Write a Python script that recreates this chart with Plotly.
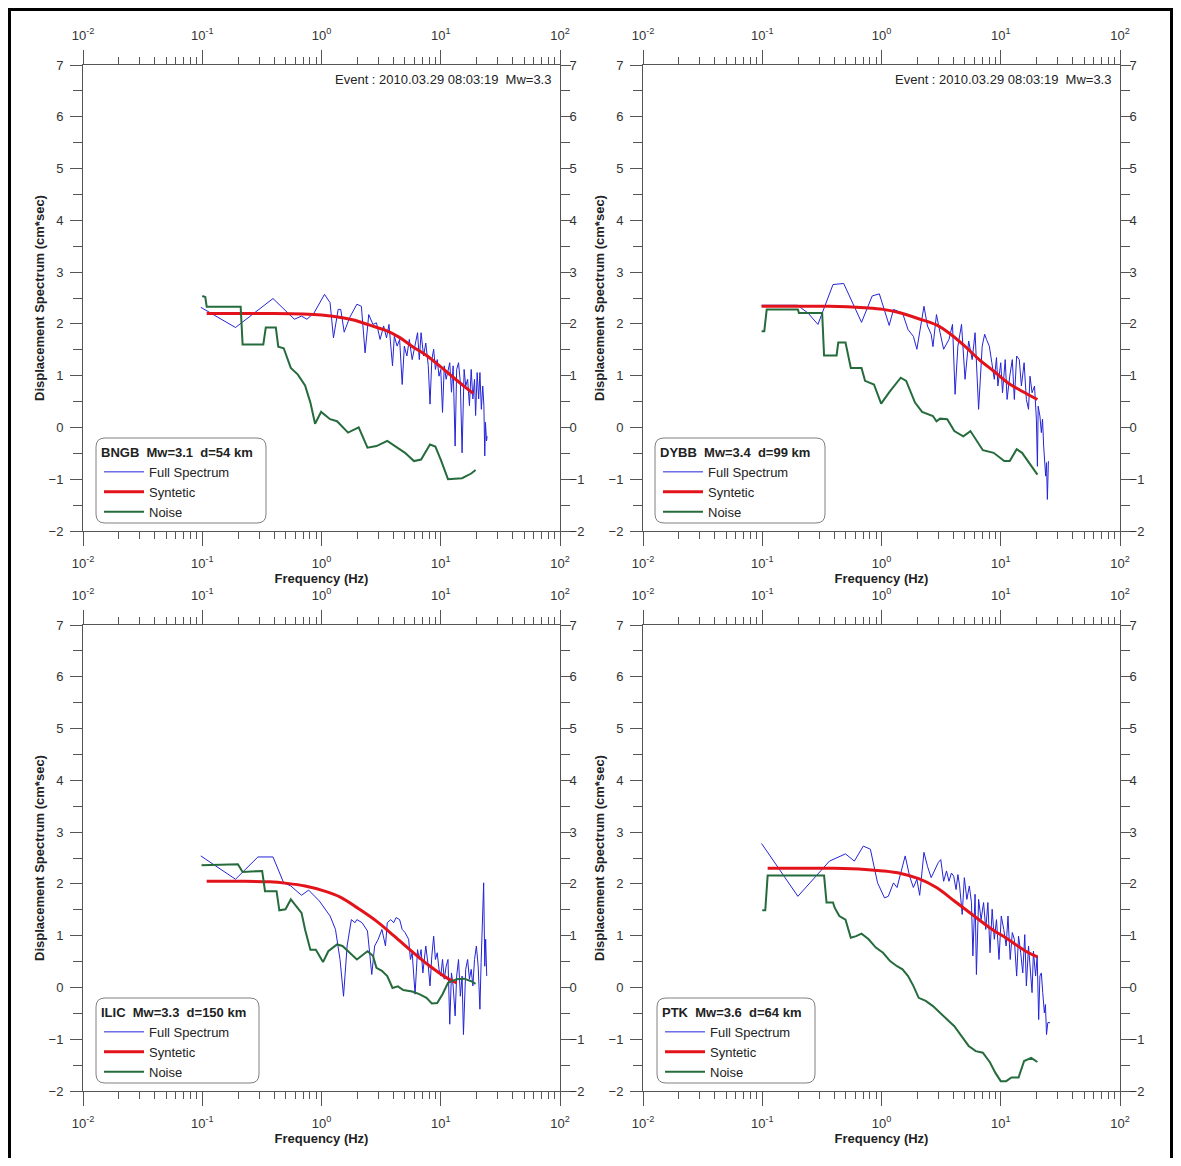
import plotly.graph_objects as go

# ---- BNGB ----
bngb_full_f = [0.0973, 0.190, 0.392, 0.592, 0.680, 0.754, 0.865, 1.06, 1.18, 1.26, 1.38, 1.45, 1.55, 1.72, 1.98,
               2.16, 2.32, 2.49, 2.70, 2.89, 3.10, 3.32, 3.51, 3.68, 3.94, 4.08, 4.31, 4.52, 4.75, 4.95, 5.20, 5.45,
               5.76, 6.09, 6.39, 6.61, 6.84, 7.18, 7.49, 7.86, 8.13, 8.42, 8.72, 9.02, 9.34, 9.67, 10.0, 10.35, 10.7,
               11.1, 11.5, 11.9, 12.3, 12.7, 13.2, 13.6, 14.1, 14.6, 15.1, 15.7, 16.2, 16.8, 17.4, 18.0, 18.6, 19.2,
               19.6, 20.2, 20.8, 21.3, 21.9, 22.5, 23.0, 23.4, 23.7, 24.2, 24.5]
bngb_full_v = [2.32, 1.93, 2.49, 2.09, 2.15, 2.09, 2.21, 2.57, 2.41, 1.73, 2.28, 2.28, 1.84, 2.12, 2.38,
               2.34, 1.44, 2.18, 1.99, 2.02, 1.70, 1.96, 1.73, 1.99, 1.19, 1.76, 1.57, 1.70, 0.83, 1.57, 1.38, 1.70,
               1.31, 1.63, 1.83, 1.31, 1.83, 1.38, 1.63, 1.19, 0.45, 1.31, 1.51, 1.12, 1.31, 0.99, 1.12, 0.29, 1.19,
               0.93, 1.12, 1.25, 0.68, 1.19, -0.36, 1.12, 1.25, 0.86, -0.49, 1.12, 0.80, 0.93, 0.42, 1.12, 0.55, 0.93,
               0.23, 1.06, 0.55, 1.06, 0.35, 0.80, 0.42, -0.55, 0.10, -0.26, -0.17]
bngb_syn_f = [0.109, 0.2, 0.4, 0.7, 1.0, 1.5, 1.9, 2.5, 3.5, 4.5, 5.8, 7.5, 10, 13, 16, 18.7]
bngb_syn_v = [2.20, 2.20, 2.20, 2.19, 2.17, 2.12, 2.07, 1.98, 1.87, 1.74, 1.56, 1.40, 1.17, 0.95, 0.78, 0.66]
bngb_noise_f = [0.100, 0.106, 0.109, 0.210, 0.218, 0.325, 0.341, 0.414, 0.434, 0.482, 0.553, 0.634, 0.728, 0.807,
                0.883, 0.993, 1.18, 1.35, 1.67, 2.05, 2.43, 2.89, 3.56, 4.37, 5.02, 5.96, 6.84, 8.13, 9.01, 10.0,
                11.5, 15.1, 18.0, 19.6]
bngb_noise_v = [2.54, 2.52, 2.33, 2.33, 1.60, 1.60, 1.93, 1.93, 1.56, 1.53, 1.15, 1.02, 0.81, 0.48,
                0.07, 0.30, 0.16, 0.12, -0.10, 0.00, -0.39, -0.36, -0.26, -0.39, -0.49, -0.65, -0.62, -0.33, -0.37,
                -0.62, -1.00, -0.98, -0.89, -0.82]

# ---- DYBB ----
dybb_full_f = [0.0987, 0.197, 0.242, 0.293, 0.392, 0.482, 0.680, 0.836, 0.959, 1.16, 1.26, 1.50, 1.67, 1.85, 1.98,
               2.27, 2.43, 2.61, 2.70, 2.89, 3.10, 3.32, 3.68, 3.94, 4.14, 4.37, 4.69, 5.02, 5.38, 5.76, 6.09, 6.52,
               6.99, 7.33, 7.59, 8.02, 8.42, 8.83, 9.21, 9.46, 10.0, 10.35, 10.9, 11.3, 11.9, 12.5, 13.0, 13.6, 14.3,
               14.9, 15.7, 16.4, 17.1, 17.6, 18.3, 19.2, 19.9, 20.3, 20.6, 21.3, 21.9, 22.4, 22.9, 23.4, 23.8, 24.2,
               24.6, 25.1]
dybb_full_v = [2.36, 2.36, 2.21, 1.99, 2.76, 2.78, 2.03, 2.54, 2.58, 1.97, 2.28, 2.21, 1.89, 1.76, 1.51,
               2.34, 1.96, 1.80, 1.56, 2.18, 1.83, 1.51, 1.70, 1.99, 0.64, 1.57, 1.99, 0.93, 1.67, 1.31, 1.83, 0.35,
               1.57, 1.80, 1.70, 1.57, 1.25, 0.93, 1.35, 0.80, 1.25, 0.67, 1.31, 0.54, 0.99, 1.31, 0.54, 1.38, 1.31,
               0.80, 1.25, 0.54, 0.35, 0.99, 0.67, 0.80, 0.16, -0.75, 0.41, 0.22, -0.10, 0.16, -0.36, -0.62, -0.94,
               -0.68, -1.39, -0.65]
dybb_syn_f = [0.0987, 0.183, 0.366, 0.728, 1.03, 1.45, 2.05, 2.89, 3.8, 5.0, 6.6, 8.7, 11.5, 15.1, 20.3]
dybb_syn_v = [2.34, 2.34, 2.34, 2.31, 2.28, 2.21, 2.10, 1.98, 1.80, 1.57, 1.31, 1.09, 0.86, 0.70, 0.54]
dybb_noise_f = [0.0987, 0.104, 0.109, 0.199, 0.203, 0.318, 0.330, 0.420, 0.434, 0.499, 0.553, 0.680, 0.728, 0.865,
                0.993, 1.18, 1.45, 1.61, 1.91, 2.19, 2.70, 2.89, 3.10, 3.56, 4.08, 4.85, 5.57, 6.17, 7.08, 8.72,
                10.7, 11.9, 13.6, 15.1, 20.3]
dybb_noise_v = [1.86, 1.86, 2.28, 2.28, 2.21, 2.21, 1.39, 1.39, 1.64, 1.64, 1.15, 1.15, 0.90, 0.83,
                0.46, 0.70, 0.96, 0.90, 0.48, 0.30, 0.22, 0.12, 0.17, 0.16, -0.07, -0.17, -0.07, -0.23, -0.44, -0.49,
                -0.65, -0.65, -0.42, -0.49, -0.91]

# ---- ILIC ----
ilic_full_f = [0.0973, 0.190, 0.293, 0.392, 0.482, 0.553, 0.680, 0.780, 0.959, 1.18, 1.31, 1.43, 1.53, 1.64, 1.78,
               1.91, 1.98, 2.19, 2.43, 2.55, 2.64, 2.79, 2.99, 3.21, 3.32, 3.44, 3.56, 3.81, 4.03, 4.22, 4.52, 4.75,
               5.02, 5.38, 5.57, 5.76, 6.09, 6.39, 6.61, 6.84, 7.08, 7.49, 7.86, 8.13, 8.42, 8.72, 9.02, 9.34, 9.67,
               10.0, 10.35, 10.7, 11.1, 11.5, 11.9, 12.3, 12.7, 13.2, 13.6, 14.1, 14.6, 15.1, 15.5, 16.2, 16.8, 17.4,
               18.0, 18.6, 19.2, 19.9, 20.6, 21.3, 21.8, 22.4, 22.9, 23.4, 23.8, 24.3]
ilic_full_v = [2.54, 2.09, 2.52, 2.52, 2.02, 1.96, 1.78, 1.88, 1.67, 1.38, 1.12, 0.54, -0.17, 0.80, 1.31,
               1.25, 1.31, 1.25, 1.09, 0.67, 0.25, 0.80, 0.93, 1.12, 0.99, 0.80, 1.25, 1.31, 1.25, 1.35, 1.31, 1.12,
               1.06, 0.93, 0.54, 0.67, -0.13, 0.73, 0.54, 0.73, 0.28, 0.80, 0.41, 0.03, 0.61, 0.99, 0.54, 0.67, 0.35,
               0.22, 0.54, 0.16, 0.41, 0.54, -0.71, 0.28, 0.03, -0.55, 0.22, 0.54, -0.17, 0.22, -0.91, 0.35, 0.54, 0.16,
               0.35, 0.03, 0.54, 0.80, 0.41, -0.42, 0.48, 1.31, 2.02, 0.41, 0.93, 0.22]
ilic_syn_f = [0.109, 0.2, 0.366, 0.516, 0.728, 1.03, 1.45, 2.05, 2.89, 4.08, 5.76, 8.13, 11.5, 13.6]
ilic_syn_v = [2.05, 2.05, 2.04, 2.01, 1.96, 1.87, 1.74, 1.52, 1.28, 0.99, 0.69, 0.41, 0.17, 0.09]
ilic_noise_f = [0.0987, 0.199, 0.218, 0.318, 0.336, 0.420, 0.443, 0.499, 0.553, 0.613, 0.680, 0.728, 0.807, 0.896,
                1.03, 1.14, 1.35, 1.50, 1.72, 1.98, 2.43, 2.70, 2.89, 3.21, 3.56, 3.94, 4.37, 4.85, 5.76, 6.61,
                7.59, 8.42, 9.34, 10.35, 11.5, 13.6, 15.7, 18.0, 19.6]
ilic_noise_v = [2.36, 2.38, 2.23, 2.25, 1.86, 1.86, 1.49, 1.51, 1.70, 1.57, 1.44, 1.12, 0.73, 0.73,
                0.49, 0.70, 0.83, 0.80, 0.67, 0.54, 0.70, 0.61, 0.38, 0.32, 0.22, -0.01, 0.02, -0.05, -0.08, -0.13,
                -0.20, -0.31, -0.30, -0.13, 0.09, 0.16, 0.17, 0.12, 0.07]

# ---- PTK ----
ptk_full_f = [0.0987, 0.199, 0.366, 0.499, 0.592, 0.703, 0.807, 0.927, 1.06, 1.14, 1.26, 1.35, 1.45, 1.58, 1.72,
              1.85, 1.98, 2.09, 2.27, 2.43, 2.61, 2.79, 2.99, 3.14, 3.32, 3.51, 3.68, 3.86, 4.03, 4.22, 4.37, 4.52,
              4.75, 4.95, 5.20, 5.45, 5.68, 5.84, 6.09, 6.25, 6.52, 6.84, 7.18, 7.49, 7.80, 8.13, 8.47, 8.83, 9.21,
              9.67, 10.1, 10.6, 11.1, 11.5, 12.0, 12.5, 13.0, 13.6, 14.1, 14.7, 15.3, 15.9, 16.4, 17.1, 17.8, 18.3,
              18.8, 19.6, 20.2, 20.8, 21.3, 21.9, 22.5, 23.2, 23.7, 24.2, 24.8, 25.9]
ptk_full_v = [2.78, 1.76, 2.44, 2.58, 2.44, 2.73, 2.67, 2.02, 1.73, 1.76, 2.02, 1.93, 2.21, 2.54, 2.15,
              1.93, 2.09, 1.78, 2.61, 2.34, 2.12, 2.25, 2.41, 2.47, 2.05, 2.25, 2.05, 2.21, 2.15, 1.89, 2.18, 1.96,
              1.41, 2.12, 1.70, 1.96, 1.64, 0.61, 1.80, 0.25, 1.70, 1.31, 1.64, 1.12, 1.64, 0.67, 1.51, 0.93, 1.31,
              0.54, 1.38, 1.12, 0.80, 1.38, 0.54, 1.06, 0.93, 0.22, 0.99, 0.67, 0.28, 1.02, 0.03, 0.80, 0.35, -0.10,
              0.70, 0.22, 0.61, -0.62, 0.22, 0.28, -0.10, -0.49, -0.33, -0.91, -0.68, -0.68]
ptk_syn_f = [0.111, 0.2, 0.4, 0.728, 1.03, 1.45, 2.05, 2.89, 4.08, 5.76, 8.13, 11.5, 16.2, 20.3]
ptk_syn_v = [2.30, 2.30, 2.30, 2.28, 2.25, 2.20, 2.10, 1.93, 1.67, 1.41, 1.15, 0.93, 0.70, 0.59]
ptk_noise_f = [0.100, 0.106, 0.111, 0.330, 0.346, 0.392, 0.405, 0.443, 0.499, 0.553, 0.613, 0.680, 0.780, 0.896,
               1.03, 1.18, 1.35, 1.50, 1.67, 1.85, 2.05, 2.35, 2.70, 3.10, 3.56, 4.08, 4.69, 5.38, 6.17, 7.08,
               8.13, 9.02, 10.0, 11.1, 12.3, 14.1, 15.7, 18.0, 20.3]
ptk_noise_v = [1.49, 1.49, 2.16, 2.16, 1.64, 1.64, 1.54, 1.38, 1.31, 0.96, 0.99, 1.04, 0.93, 0.77,
               0.67, 0.51, 0.41, 0.35, 0.22, 0.03, -0.20, -0.26, -0.36, -0.49, -0.62, -0.75, -0.94, -1.13, -1.23,
               -1.26, -1.45, -1.65, -1.81, -1.81, -1.74, -1.74, -1.42, -1.36, -1.44]

legend_titles = ["BNGB  Mw=3.1  d=54 km", "DYBB  Mw=3.4  d=99 km",
                 "ILIC  Mw=3.3  d=150 km", "PTK  Mw=3.6  d=64 km"]
event_text = "Event : 2010.03.29 08:03:19\u00a0\u00a0Mw=3.3"
tick_vals = [0.01, 0.1, 1, 10, 100]
tick_text = ["10<sup>-2</sup>", "10<sup>-1</sup>", "10<sup>0</sup>", "10<sup>1</sup>", "10<sup>2</sup>"]

stations = [
    (bngb_full_f, bngb_full_v, bngb_syn_f, bngb_syn_v, bngb_noise_f, bngb_noise_v),
    (dybb_full_f, dybb_full_v, dybb_syn_f, dybb_syn_v, dybb_noise_f, dybb_noise_v),
    (ilic_full_f, ilic_full_v, ilic_syn_f, ilic_syn_v, ilic_noise_f, ilic_noise_v),
    (ptk_full_f, ptk_full_v, ptk_syn_f, ptk_syn_v, ptk_noise_f, ptk_noise_v),
]

OFF = 8  # default page body margin
W, H = 1181 - 2 * OFF, 1166 - 2 * OFF  # so the page fits the window exactly
FONT = "Liberation Sans, Arial, sans-serif"
AX = "#555555"
TXT = "#222222"
# positions below are page pixels measured on the reference
col_px = [(83, 560), (643, 1120)]
row_px = [(65, 531), (625, 1091)]
legend_box = [(96, 438, 266, 523), (655, 438, 825, 523), (96, 998, 259, 1083), (657, 998, 815, 1083)]

minor_x = [m * 10.0 ** e for e in range(-2, 2) for m in range(2, 10)]


def fx(p):
    return (p - OFF) / W


def fy(p):
    return 1 - (p - OFF) / H


def xaxis_style(dom, **kw):
    d = dict(type="log", range=[-2, 2], domain=dom, tickvals=tick_vals, ticktext=tick_text,
             ticks="outside", ticklen=14, tickcolor=AX, tickwidth=1, showline=True, linecolor=AX,
             linewidth=1, showgrid=False, zeroline=False, fixedrange=True, automargin=False,
             tickfont=dict(size=13, color="#333333", family=FONT),
             minor=dict(tickvals=minor_x, ticks="outside", ticklen=7, tickcolor=AX, showgrid=False))
    d.update(kw)
    return d


def yaxis_style(dom, **kw):
    d = dict(range=[-2, 7], domain=dom, tick0=0, dtick=1, ticks="outside", ticklen=12, tickcolor=AX,
             tickwidth=1, showline=True, linecolor=AX, linewidth=1, showgrid=False, zeroline=False,
             fixedrange=True, automargin=False, tickfont=dict(size=13, color="#333333", family=FONT),
             minor=dict(tick0=0, dtick=0.5, ticks="outside", ticklen=9, tickcolor=AX, showgrid=False))
    d.update(kw)
    return d


fig = go.Figure()
layout = {}
shapes = []
annotations = []

for k, (ff, fv, sf, sv, nf, nv) in enumerate(stations):
    row, col = divmod(k, 2)
    xd = [fx(col_px[col][0]), fx(col_px[col][1])]
    yd = [fy(row_px[row][1]), fy(row_px[row][0])]
    xb, xt = k + 1, k + 5
    xname = "x" if xb == 1 else f"x{xb}"
    yname = "y" if xb == 1 else f"y{xb}"
    leg = "legend" if k == 0 else f"legend{k + 1}"

    fig.add_trace(go.Scatter(x=ff, y=fv, mode="lines", name="Full Spectrum", xaxis=xname, yaxis=yname,
                             line=dict(color="#2424d8", width=1), legend=leg))
    fig.add_trace(go.Scatter(x=sf, y=sv, mode="lines", name="Syntetic", xaxis=xname, yaxis=yname,
                             line=dict(color="#e3131b", width=3, shape="spline", smoothing=1.0), legend=leg))
    fig.add_trace(go.Scatter(x=nf, y=nv, mode="lines", name="Noise", xaxis=xname, yaxis=yname,
                             line=dict(color="#256b3c", width=2), legend=leg))
    # empty traces so the top and right mirror axes are drawn
    fig.add_trace(go.Scatter(x=[], y=[], xaxis=f"x{xt}", yaxis=yname, showlegend=False, hoverinfo="skip"))
    fig.add_trace(go.Scatter(x=[], y=[], xaxis=xname, yaxis=f"y{xt}", showlegend=False, hoverinfo="skip"))

    layout[f"xaxis{xb}"] = xaxis_style(xd, anchor=yname, ticklabelstandoff=6,
                                       title=dict(text="<b>Frequency (Hz)</b>", standoff=1,
                                                  font=dict(size=13, color=TXT, family=FONT)))
    layout[f"xaxis{xt}"] = xaxis_style(xd, anchor=yname, overlaying=xname, side="top", ticklabelstandoff=5)
    layout[f"yaxis{xb}"] = yaxis_style(yd, anchor=xname, ticklabelstandoff=4,
                                       title=dict(text="<b>Displacement Spectrum (cm*sec)</b>", standoff=1,
                                                  font=dict(size=13, color=TXT, family=FONT)))
    layout[f"yaxis{xt}"] = yaxis_style(yd, anchor=xname, overlaying=yname, side="right", ticklen=10,
                                       ticklabelstandoff=-4,
                                       minor=dict(tick0=0, dtick=0.5, ticks="outside", ticklen=9,
                                                  tickcolor=AX, showgrid=False))

    bx0, by0, bx1, by1 = legend_box[k]
    layout[leg] = dict(x=fx(bx0 + 3), y=fy(by0 + 2), xanchor="left", yanchor="top",
                       bgcolor="rgba(0,0,0,0)", borderwidth=0, itemwidth=40, tracegroupgap=0,
                       font=dict(size=13, color=TXT, family=FONT),
                       title=dict(text=f"<b>{legend_titles[k]}</b>", side="top",
                                  font=dict(size=13, color=TXT, family=FONT)))
    r = 9
    path = (f"M{fx(bx0 + r)},{fy(by0)} L{fx(bx1 - r)},{fy(by0)} Q{fx(bx1)},{fy(by0)} {fx(bx1)},{fy(by0 + r)} "
            f"L{fx(bx1)},{fy(by1 - r)} Q{fx(bx1)},{fy(by1)} {fx(bx1 - r)},{fy(by1)} "
            f"L{fx(bx0 + r)},{fy(by1)} Q{fx(bx0)},{fy(by1)} {fx(bx0)},{fy(by1 - r)} "
            f"L{fx(bx0)},{fy(by0 + r)} Q{fx(bx0)},{fy(by0)} {fx(bx0 + r)},{fy(by0)} Z")
    shapes.append(dict(type="path", path=path, xref="paper", yref="paper",
                       line=dict(color="#808080", width=1), fillcolor="rgba(255,255,255,0)"))

    if row == 0:
        annotations.append(dict(text=event_text, xref="paper", yref="paper", x=fx(col_px[col][1] - 7),
                                y=fy(80), xanchor="right", yanchor="middle", showarrow=False,
                                font=dict(size=13, color=TXT, family=FONT)))

# outer frame: left, top and right edges only (the bottom edge is off the picture)
frame = (f"M{fx(9.5)},{fy(1170)} L{fx(9.5)},{fy(9.5)} L{fx(1171.5)},{fy(9.5)} L{fx(1171.5)},{fy(1170)}")
shapes.append(dict(type="path", path=frame, xref="paper", yref="paper",
                   line=dict(color="black", width=3), fillcolor="rgba(0,0,0,0)"))

fig.update_layout(width=W, height=H, margin=dict(l=0, r=0, t=0, b=0, pad=0, autoexpand=False), autosize=False,
                  paper_bgcolor="white", plot_bgcolor="white",
                  font=dict(family=FONT, size=13, color=TXT),
                  shapes=shapes, annotations=annotations, **layout)

fig.write_html("out.html")
